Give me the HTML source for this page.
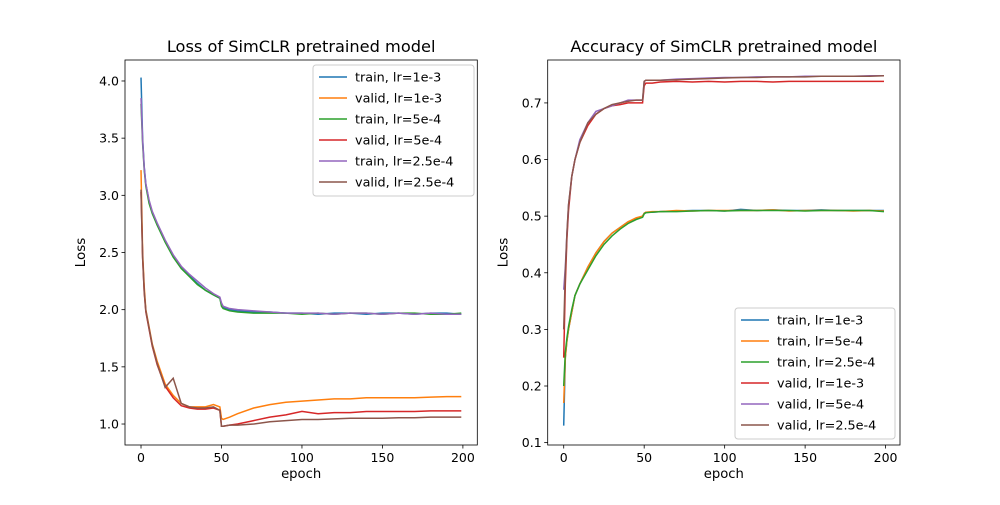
<!DOCTYPE html>
<html><head><meta charset="utf-8"><style>
body{margin:0;background:#fff}
svg{font-family:"DejaVu Sans","Liberation Sans",sans-serif}
</style></head><body>
<svg id="fig" width="1000" height="500" viewBox="0 0 1000 500" xmlns="http://www.w3.org/2000/svg"></svg>
<script>
const epochs=[0,1,2,3,5,7,10,15,20,25,30,35,40,45,49,50,51,55,60,70,80,90,100,110,120,130,140,150,160,170,180,190,199];
// Left: loss
const lossTrain1=[4.03,3.5,3.25,3.1,2.95,2.85,2.75,2.6,2.47,2.37,2.3,2.23,2.17,2.13,2.1,2.05,2.02,2.0,1.99,1.98,1.98,1.97,1.97,1.96,1.97,1.97,1.96,1.97,1.97,1.96,1.97,1.97,1.96];
const lossValid1=[3.22,2.5,2.2,2.0,1.85,1.7,1.55,1.35,1.25,1.18,1.15,1.15,1.15,1.17,1.15,1.05,1.04,1.06,1.09,1.14,1.17,1.19,1.2,1.21,1.22,1.22,1.23,1.23,1.23,1.23,1.235,1.24,1.24];
const lossTrain2=[3.8,3.45,3.22,3.08,2.93,2.84,2.74,2.59,2.46,2.36,2.29,2.22,2.17,2.13,2.1,2.03,2.01,1.99,1.98,1.97,1.97,1.97,1.96,1.97,1.96,1.97,1.97,1.96,1.97,1.97,1.96,1.96,1.97];
const lossValid2=[3.03,2.45,2.15,1.98,1.83,1.68,1.52,1.33,1.23,1.16,1.14,1.13,1.13,1.14,1.12,0.98,0.98,0.99,1.0,1.03,1.06,1.08,1.11,1.09,1.1,1.1,1.11,1.11,1.11,1.11,1.115,1.115,1.115];
const lossTrain3=[3.85,3.48,3.24,3.1,2.96,2.86,2.76,2.61,2.48,2.38,2.31,2.25,2.19,2.14,2.11,2.06,2.03,2.01,2.0,1.99,1.98,1.97,1.97,1.97,1.96,1.97,1.97,1.96,1.97,1.96,1.97,1.96,1.96];
const lossValid3=[3.05,2.46,2.16,1.99,1.84,1.69,1.53,1.32,1.4,1.18,1.15,1.14,1.14,1.15,1.12,0.98,0.98,0.99,0.99,1.0,1.02,1.03,1.04,1.04,1.045,1.05,1.05,1.05,1.055,1.055,1.06,1.06,1.06];
// Right: accuracy
const accTrain1=[0.13,0.25,0.28,0.3,0.33,0.36,0.38,0.41,0.435,0.455,0.47,0.48,0.49,0.495,0.5,0.505,0.507,0.507,0.508,0.509,0.51,0.51,0.509,0.512,0.51,0.511,0.51,0.51,0.511,0.51,0.51,0.51,0.51];
const accTrain2=[0.17,0.25,0.28,0.3,0.33,0.36,0.38,0.41,0.435,0.455,0.47,0.48,0.49,0.497,0.5,0.505,0.507,0.508,0.508,0.51,0.509,0.51,0.51,0.51,0.51,0.511,0.509,0.51,0.51,0.51,0.509,0.51,0.509];
const accTrain3=[0.2,0.26,0.285,0.305,0.335,0.36,0.38,0.405,0.43,0.45,0.465,0.477,0.487,0.494,0.498,0.504,0.506,0.507,0.508,0.508,0.509,0.51,0.509,0.51,0.51,0.51,0.51,0.509,0.51,0.51,0.51,0.51,0.508];
const accValid1=[0.25,0.38,0.46,0.51,0.57,0.6,0.63,0.66,0.68,0.69,0.695,0.697,0.7,0.7,0.7,0.73,0.735,0.735,0.737,0.738,0.737,0.738,0.737,0.738,0.738,0.737,0.738,0.738,0.738,0.738,0.738,0.738,0.738];
const accValid2=[0.37,0.41,0.47,0.52,0.57,0.6,0.635,0.665,0.685,0.69,0.695,0.7,0.705,0.705,0.705,0.738,0.74,0.74,0.74,0.742,0.743,0.744,0.745,0.745,0.746,0.746,0.746,0.747,0.747,0.747,0.747,0.748,0.748];
const accValid3=[0.3,0.4,0.47,0.52,0.57,0.6,0.63,0.665,0.68,0.69,0.697,0.7,0.703,0.705,0.705,0.738,0.74,0.74,0.74,0.741,0.742,0.743,0.744,0.745,0.745,0.746,0.746,0.746,0.747,0.747,0.747,0.747,0.748];
const xTicks=[0,50,100,150,200];
const lossTicks=[1.0,1.5,2.0,2.5,3.0,3.5,4.0];
const accTicks=[0.1,0.2,0.3,0.4,0.5,0.6,0.7];
const lossLabels=["train, lr=1e-3","valid, lr=1e-3","train, lr=5e-4","valid, lr=5e-4","train, lr=2.5e-4","valid, lr=2.5e-4"];
const accLabels=["train, lr=1e-3","train, lr=5e-4","train, lr=2.5e-4","valid, lr=1e-3","valid, lr=5e-4","valid, lr=2.5e-4"];
const C=["#1f77b4","#ff7f0e","#2ca02c","#d62728","#9467bd","#8c564b"];
const NS="http://www.w3.org/2000/svg";
const fig=document.getElementById('fig');
function mk(t,a,p){const e=document.createElementNS(NS,t);for(const k in a)e.setAttribute(k,a[k]);(p||fig).appendChild(e);return e;}
function panel(name,x0,x1,y0,y1,ymin,ymax,yt,series,labels,title,leg){
  const g=mk('g',{});
  
  
  const xs=v=>x0+(v+9.95)/218.9*(x1-x0);
  const ys=v=>y1-(v-ymin)/(ymax-ymin)*(y1-y0);
  series.forEach((s,i)=>{
    const p=mk('polyline',{points:s.map((v,j)=>xs(epochs[j]).toFixed(2)+','+ys(v).toFixed(2)).join(' '),fill:'none',stroke:C[i],'stroke-width':1.5},g);
    
    
  });
  mk('rect',{x:x0,y:y0,width:x1-x0,height:y1-y0,fill:'none',stroke:'#000','stroke-width':0.8},g);
  xTicks.forEach(t=>{const x=xs(t);mk('line',{x1:x,x2:x,y1:y1,y2:y1+3.5,stroke:'#000','stroke-width':0.8},g);
    const tx=mk('text',{x:x,y:y1+17,'font-size':13.9*0.9,'text-anchor':'middle'},g);tx.textContent=t;
    
    });
  yt.forEach(t=>{const y=ys(t);mk('line',{x1:x0,x2:x0-3.5,y1:y,y2:y,stroke:'#000','stroke-width':0.8},g);
    const tx=mk('text',{x:x0-6,y:y+4.5,'font-size':12.5,'text-anchor':'end'},g);tx.textContent=t.toFixed(1);
    
    });
  const xl=mk('text',{x:(x0+x1)/2,y:y1+33,'font-size':13.9*0.95,'text-anchor':'middle'},g);xl.textContent='epoch';
  
  
  const yl=mk('text',{x:0,y:0,'font-size':13.5,'text-anchor':'middle',transform:`translate(${x0-40},${(y0+y1)/2}) rotate(-90)`},g);yl.textContent='Loss';
  
  
  const ti=mk('text',{x:(x0+x1)/2,y:y0-8,'font-size':16.2,'text-anchor':'middle'},g);ti.textContent=title;
  
  
  const lg=mk('g',{},g);
  
  
  mk('rect',{x:leg[0],y:leg[1],width:leg[2],height:131,rx:3,fill:'#fff','fill-opacity':0.8,stroke:'#ccc','stroke-width':1},lg);
  labels.forEach((l,i)=>{const y=leg[1]+12+i*21;
    mk('line',{x1:leg[0]+6,x2:leg[0]+34,y1:y,y2:y,stroke:C[i],'stroke-width':1.5},lg);
    const t=mk('text',{x:leg[0]+42,y:y+4.5,'font-size':12.8},lg);t.textContent=l;
    
    });
}
panel('loss-chart',125,477.3,60,445,0.8165,4.1835,lossTicks,[lossTrain1,lossValid1,lossTrain2,lossValid2,lossTrain3,lossValid3],lossLabels,'Loss of SimCLR pretrained model',[313,65,161]);
panel('accuracy-chart',547.7,900,60,445,0.0958,0.7758,accTicks,[accTrain1,accTrain2,accTrain3,accValid1,accValid2,accValid3],accLabels,'Accuracy of SimCLR pretrained model',[735,308,160]);
</script>
</body></html>
